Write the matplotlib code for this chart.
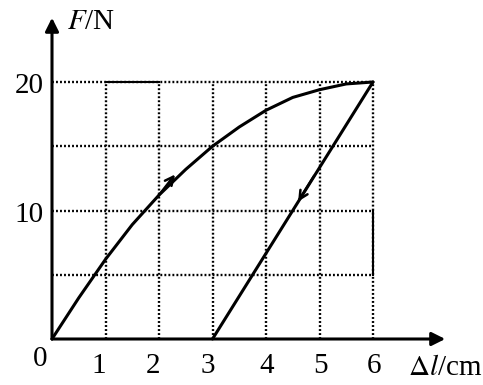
import matplotlib
matplotlib.use('Agg')
from matplotlib import pyplot as plt

# loading curve
load_x = [0, 0.5, 1, 1.5, 2, 2.5, 3, 3.5, 4, 4.5, 5, 5.5, 6]
load_f = [0, 3.2, 6.2, 8.9, 11.2, 13.2, 15.0, 16.5, 17.8, 18.8, 19.4, 19.85, 20]
# unloading line
unload_x = [6, 3]
unload_f = [20, 0]

x_ticks = [1, 2, 3, 4, 5, 6]
x_label_shift = [-0.13, -0.11, -0.09, 0.02, 0.02, 0.02]
y_ticks = [10, 20]
grid_y = [5, 10, 15, 20]

serif = 'Liberation Serif'
fs = 21

fig = plt.figure(figsize=(4.83, 3.85), dpi=100)
ax = fig.add_axes([0, 0, 1, 1])
ax.set_xlim(-52 / 53.5, (483 - 52) / 53.5)
ax.set_ylim(-46 / 12.85, 339 / 12.85)
ax.axis('off')

dot = (0, (0.8, 0.9))
for g in grid_y:
    ax.plot([0, 6], [g, g], color='black', lw=1.7, ls=dot)
for g in x_ticks:
    ax.plot([g, g], [0, 20], color='black', lw=1.7, ls=dot)
# solid bits that show in the scan
ax.plot([1, 2], [20, 20], color='black', lw=1.5)
ax.plot([6, 6], [5, 10], color='black', lw=1.5)

# axes with arrows
ax.annotate('', xy=(7.35, 0), xytext=(0, 0),
            arrowprops=dict(arrowstyle='-|>', color='black', lw=2.2,
                            mutation_scale=20, shrinkA=0, shrinkB=0))
ax.annotate('', xy=(0, 25.0), xytext=(0, 0),
            arrowprops=dict(arrowstyle='-|>', color='black', lw=2.2,
                            mutation_scale=20, shrinkA=0, shrinkB=0))

ax.plot(load_x, load_f, color='black', lw=2.2, solid_capstyle='round')
ax.plot(unload_x, unload_f, color='black', lw=2.2, solid_capstyle='round')

# direction arrows on the curves
ax.annotate('', xy=(2.3, 12.8), xytext=(2.0, 11.2),
            arrowprops=dict(arrowstyle='->', color='black', lw=1.8,
                            mutation_scale=15, shrinkA=0, shrinkB=0))
ax.annotate('', xy=(4.6, 10.7), xytext=(4.9, 12.7),
            arrowprops=dict(arrowstyle='->', color='black', lw=1.8,
                            mutation_scale=15, shrinkA=0, shrinkB=0))

# tick labels
for t, s in zip(x_ticks, x_label_shift):
    ax.text(t + s, -2.1, str(t), family=serif, fontsize=fs,
            ha='center', va='center')
ax.text(-0.22, -1.55, '0', family=serif, fontsize=fs, ha='center', va='center')
for t in y_ticks:
    ax.text(-0.16, t - 0.35, str(t), family=serif, fontsize=fs,
            ha='right', va='center')

ax.text(0.28, 24.7, r'$\mathit{F}$/N', family=serif, fontsize=fs,
        ha='left', va='center', math_fontfamily='stix')
ax.text(6.65, -2.26, r'$\Delta\mathit{l}$/cm', family=serif, fontsize=fs,
        ha='left', va='center', math_fontfamily='stix')

fig.savefig('out.png', dpi=100, facecolor='white')
